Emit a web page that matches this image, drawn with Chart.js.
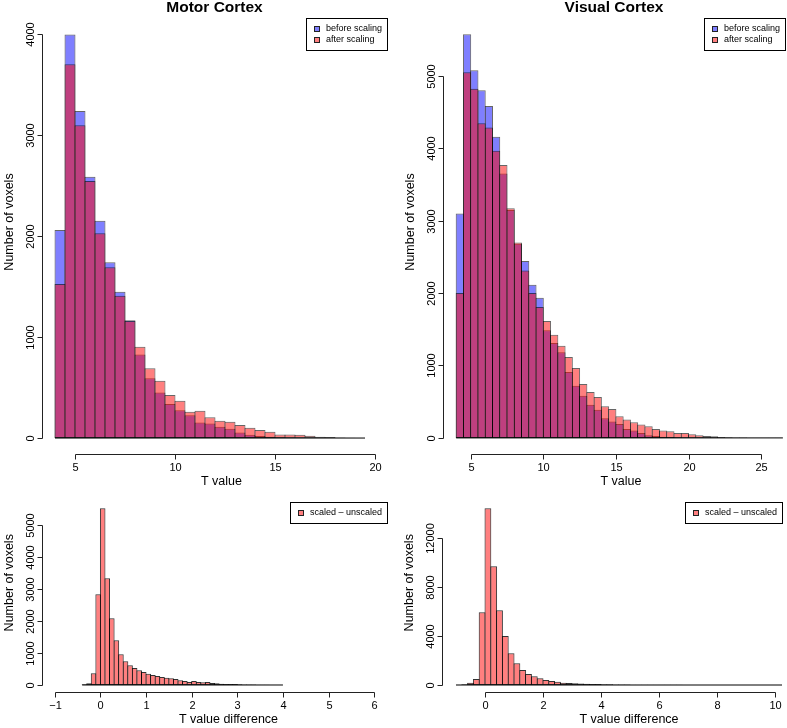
<!DOCTYPE html>
<html>
<head>
<meta charset="utf-8">
<script src="https://cdn.jsdelivr.net/npm/chart.js@4.4.0/dist/chart.umd.min.js"></script>
<style>
html, body { margin: 0; padding: 0; background: #fff; overflow: hidden; width: 787px; height: 728px; }
canvas { position: absolute; }
</style>
</head>
<body>
<canvas id="motorHist" width="393" height="495" style="left:0px;top:0px"></canvas>
<canvas id="visualHist" width="420" height="495" style="left:393px;top:0px"></canvas>
<canvas id="motorDiff" width="393" height="233" style="left:0px;top:495px"></canvas>
<canvas id="visualDiff" width="420" height="233" style="left:393px;top:495px"></canvas>
<script>
// bin centres (T value) and voxel counts
const motorBins = [4.25, 4.75, 5.25, 5.75, 6.25, 6.75, 7.25, 7.75, 8.25, 8.75, 9.25, 9.75, 10.25, 10.75, 11.25, 11.75,
  12.25, 12.75, 13.25, 13.75, 14.25, 14.75, 15.25, 15.75, 16.25, 16.75, 17.25, 17.75, 18.25, 18.75, 19.25];
const motorBefore = [2059, 3995, 3238, 2587, 2152, 1740, 1449, 1165, 828, 591, 452, 337, 274, 225, 155, 145,
  112, 93, 56, 33, 20, 13, 7, 5, 3, 2, 1, 1, 0, 0, 0];
const motorAfter = [1525, 3700, 3096, 2545, 2027, 1690, 1409, 1158, 904, 690, 568, 426, 370, 261, 271, 205,
  172, 162, 129, 102, 79, 63, 36, 36, 33, 23, 13, 10, 5, 3, 1];

const visualBins = [4.25, 4.75, 5.25, 5.75, 6.25, 6.75, 7.25, 7.75, 8.25, 8.75, 9.25, 9.75, 10.25, 10.75, 11.25,
  11.75, 12.25, 12.75, 13.25, 13.75, 14.25, 14.75, 15.25, 15.75, 16.25, 16.75, 17.25, 17.75, 18.25, 18.75,
  19.25, 19.75, 20.25, 20.75, 21.25, 21.75, 22.25, 22.75, 23.25, 23.75, 24.25, 24.75, 25.25, 25.75, 26.25];
const visualBefore = [3098, 5572, 5076, 4800, 4583, 4156, 3650, 3145, 2680, 2441, 2114, 1935, 1485, 1310, 1181,
  910, 721, 583, 459, 390, 271, 225, 193, 124, 101, 69, 37, 28, 17, 12,
  8, 5, 3, 2, 1, 1, 0, 0, 0, 0, 0, 0, 0, 0, 0];
const visualAfter = [2000, 5048, 4822, 4345, 4284, 3963, 3766, 3172, 2698, 2312, 2000, 1807, 1614, 1425, 1273,
  1117, 965, 745, 634, 565, 437, 400, 299, 253, 216, 184, 161, 124, 101, 92,
  69, 69, 51, 37, 28, 23, 14, 9, 7, 5, 3, 2, 2, 1, 1];

const motorDiffBins = [-0.35, -0.25, -0.15, -0.05, 0.05, 0.15, 0.25, 0.35, 0.45, 0.55, 0.65, 0.75, 0.85, 0.95,
  1.05, 1.15, 1.25, 1.35, 1.45, 1.55, 1.65, 1.75, 1.85, 1.95, 2.05, 2.15, 2.25, 2.35, 2.45, 2.55,
  2.65, 2.75, 2.85, 2.95, 3.05, 3.15, 3.25, 3.35, 3.45, 3.55, 3.65, 3.75, 3.85, 3.95];
const motorDiffCounts = [20, 52, 365, 2833, 5521, 3333, 2083, 1396, 958, 740, 615, 531, 458, 406,
  354, 313, 281, 250, 229, 208, 188, 146, 125, 94, 125, 94, 83, 94, 62, 52,
  42, 31, 31, 31, 21, 18, 15, 12, 10, 6, 4, 3, 2, 1];

const visualDiffBins = [-0.9, -0.7, -0.5, -0.3, -0.1, 0.1, 0.3, 0.5, 0.7, 0.9, 1.1, 1.3, 1.5, 1.7, 1.9,
  2.1, 2.3, 2.5, 2.7, 2.9, 3.1, 3.3, 3.5, 3.7, 3.9, 4.1, 4.3, 4.5, 4.7, 4.9,
  5.1, 5.3, 5.5, 5.7, 5.9, 6.1, 6.3, 6.5, 6.7, 6.9, 7.1, 7.3, 7.5, 7.7, 7.9,
  8.1, 8.3, 8.5, 8.7, 8.9, 9.1, 9.3, 9.5, 9.7, 9.9, 10.1, 10.3, 10.5];
const visualDiffCounts = [30, 60, 190, 490, 5920, 14390, 9666, 6083, 3990, 2580, 1767, 1221, 896, 706, 543,
  407, 326, 271, 190, 163, 135, 120, 108, 80, 80, 70, 55, 45, 40, 35,
  30, 27, 25, 22, 20, 18, 16, 14, 12, 10, 8, 6, 5, 4, 3,
  3, 2, 2, 1, 1, 1, 0, 1, 0, 0, 0, 0, 1];

// axis ticks
const motorXTicks = [5, 10, 15, 20];
const motorYTicks = [0, 1000, 2000, 3000, 4000];
const visualXTicks = [5, 10, 15, 20, 25];
const visualYTicks = [0, 1000, 2000, 3000, 4000, 5000];
const motorDiffXTicks = [-1, 0, 1, 2, 3, 4, 5, 6];
const motorDiffYTicks = [0, 1000, 2000, 3000, 4000, 5000];
const visualDiffXTicks = [0, 2, 4, 6, 8, 10];
const visualDiffYTicks = [0, 4000, 8000, 12000];

const FONT = '"Liberation Sans", Arial, Helvetica, sans-serif';
const BLUE = 'rgba(0, 0, 255, 0.5)';
const RED = 'rgba(255, 0, 0, 0.5)';

function pts(bins, counts) {
    return bins.map((b, i) => ({ x: b, y: counts[i] }));
}

// R draws empty bins as flat boxes, so the whole break range gets a line at 0
function baseline(bins) {
    var half = (bins[1] - bins[0]) / 2;
    return [{ x: bins[0] - half, y: 0 }, { x: bins[bins.length - 1] + half, y: 0 }];
}

function fmt(v) {
    return v < 0 ? '\u2212' + Math.abs(v) : String(v);
}

// base-graphics look: axes only span the ticks, rotated y labels, boxed legend
function rStyle(cfg) {
    return {
        id: 'rStyle',
        afterDraw(chart) {
            const ctx = chart.ctx, a = chart.chartArea;
            const xs = chart.scales.x, ys = chart.scales.y;
            ctx.save();
            ctx.lineWidth = 1;
            ctx.strokeStyle = '#222';
            ctx.fillStyle = '#000';

            const yA = Math.round(a.bottom) + 0.5;
            const xp = cfg.xTicks.map(v => Math.round(xs.getPixelForValue(v)) + 0.5);
            const xA = Math.round(a.left) + 0.5;
            const yp = cfg.yTicks.map(v => Math.round(ys.getPixelForValue(v)) + 0.5);
            ctx.beginPath();
            ctx.moveTo(xp[0], yA);
            ctx.lineTo(xp[xp.length - 1], yA);
            xp.forEach(p => { ctx.moveTo(p, yA); ctx.lineTo(p, yA + 5); });
            ctx.moveTo(xA, yp[0]);
            ctx.lineTo(xA, yp[yp.length - 1]);
            yp.forEach(p => { ctx.moveTo(xA, p); ctx.lineTo(xA - 5, p); });
            ctx.stroke();

            ctx.textAlign = 'center';
            ctx.textBaseline = 'middle';
            ctx.font = '11px ' + FONT;
            cfg.xTicks.forEach((v, i) => ctx.fillText(fmt(v), xp[i], a.bottom + 14));
            cfg.yTicks.forEach((v, i) => {
                ctx.save();
                ctx.translate(a.left - 11, yp[i]);
                ctx.rotate(-Math.PI / 2);
                ctx.fillText(fmt(v), 0, 0);
                ctx.restore();
            });

            ctx.font = '12.5px ' + FONT;
            ctx.fillText(cfg.xTitle, (a.left + a.right) / 2 + cfg.xShift, a.bottom + 28);
            ctx.save();
            ctx.translate(a.left - 32, (a.top + a.bottom) / 2 + cfg.yShift);
            ctx.rotate(-Math.PI / 2);
            ctx.fillText(cfg.yTitle, 0, 0);
            ctx.restore();

            if (cfg.title) {
                ctx.font = 'bold 15.5px ' + FONT;
                ctx.fillText(cfg.title, (a.left + a.right) / 2, a.top - 10);
            }

            // legend in the top right corner of the plot region
            ctx.font = '9px ' + FONT;
            const items = cfg.series;
            const tw = Math.max(...items.map(s => ctx.measureText(s.label).width));
            const w = Math.round(20 + tw + 5), h = Math.round(items.length * 10.7 + 10.6);
            const lx = Math.round(a.right) - w, ly = Math.round(a.top);
            ctx.strokeStyle = '#000';
            ctx.strokeRect(lx + 0.5, ly + 0.5, w, h);
            ctx.textAlign = 'left';
            items.forEach((s, i) => {
                const cy = ly + 11 + i * 10.7;
                ctx.fillStyle = s.color;
                ctx.fillRect(lx + 8, Math.round(cy) - 3, 6, 6);
                ctx.strokeStyle = '#222';
                ctx.strokeRect(lx + 8.5, Math.round(cy) - 2.5, 5, 5);
                ctx.fillStyle = '#000';
                ctx.fillText(s.label, lx + 20, cy);
            });
            ctx.restore();
        }
    };
}

function drawHist(id, cfg) {
    const canvas = document.getElementById(id);
    const pad = cfg.pad;
    const areaW = canvas.width - pad.left - pad.right;
    const binPx = (cfg.bins[1] - cfg.bins[0]) * areaW / (cfg.xMax - cfg.xMin);
    const overlap = (binPx + 1) / binPx; // neighbouring bars share one edge line, like R

    const datasets = cfg.series.map((s, i) => ({
        type: 'bar',
        label: s.label,
        data: pts(cfg.bins, s.counts),
        backgroundColor: s.color,
        borderColor: cfg.edge,
        borderWidth: 1,
        borderSkipped: false,
        inflateAmount: 0,
        grouped: false,
        barPercentage: overlap,
        categoryPercentage: 1,
        order: cfg.series.length - i
    }));
    datasets.push({
        type: 'line',
        data: baseline(cfg.bins),
        borderColor: '#000',
        borderWidth: 1,
        pointRadius: 0,
        order: 0
    });

    return new Chart(canvas, {
        type: 'bar',
        data: { datasets: datasets },
        options: {
            responsive: false,
            animation: false,
            devicePixelRatio: 1,
            layout: { padding: pad },
            plugins: { legend: { display: false }, tooltip: { enabled: false }, title: { display: false } },
            scales: {
                x: { type: 'linear', min: cfg.xMin, max: cfg.xMax, offset: false, display: false },
                y: { type: 'linear', min: cfg.yMin, max: cfg.yMax, display: false }
            }
        },
        plugins: [rStyle(cfg)]
    });
}

drawHist('motorHist', {
    bins: motorBins,
    series: [
        { label: 'before scaling', counts: motorBefore, color: BLUE },
        { label: 'after scaling', counts: motorAfter, color: RED }
    ],
    edge: 'rgba(0, 0, 0, 0.6)',
    pad: { left: 42, top: 18, right: 6, bottom: 41 },
    xMin: 3.35, xMax: 20.6, yMin: -158, yMax: 4158,
    xTicks: motorXTicks, yTicks: motorYTicks,
    title: 'Motor Cortex', xTitle: 'T value', yTitle: 'Number of voxels',
    xShift: 7, yShift: -14
});

drawHist('visualHist', {
    bins: visualBins,
    series: [
        { label: 'before scaling', counts: visualBefore, color: BLUE },
        { label: 'after scaling', counts: visualAfter, color: RED }
    ],
    edge: 'rgba(0, 0, 0, 0.6)',
    pad: { left: 50, top: 18, right: 28, bottom: 41 },
    xMin: 3.092, xMax: 26.646, yMin: -222, yMax: 5797,
    xTicks: visualXTicks, yTicks: visualYTicks,
    title: 'Visual Cortex', xTitle: 'T value', yTitle: 'Number of voxels',
    xShift: 7, yShift: -14
});

drawHist('motorDiff', {
    bins: motorDiffBins,
    series: [{ label: 'scaled \u2013 unscaled', counts: motorDiffCounts, color: RED }],
    edge: 'rgba(0, 0, 0, 0.8)',
    pad: { left: 42, top: 6.5, right: 6, bottom: 36 },
    xMin: -1.28, xMax: 6.28, yMin: -219, yMax: 5734,
    xTicks: motorDiffXTicks, yTicks: motorDiffYTicks,
    xTitle: 'T value difference', yTitle: 'Number of voxels',
    xShift: 14, yShift: -14
});

drawHist('visualDiff', {
    bins: visualDiffBins,
    series: [{ label: 'scaled \u2013 unscaled', counts: visualDiffCounts, color: RED }],
    edge: 'rgba(0, 0, 0, 0.8)',
    pad: { left: 49, top: 6.5, right: 31, bottom: 36 },
    xMin: -1.483, xMax: 10.241, yMin: -570, yMax: 14943,
    xTicks: visualDiffXTicks, yTicks: visualDiffYTicks,
    xTitle: 'T value difference', yTitle: 'Number of voxels',
    xShift: 17, yShift: -14
});
</script>
</body>
</html>
